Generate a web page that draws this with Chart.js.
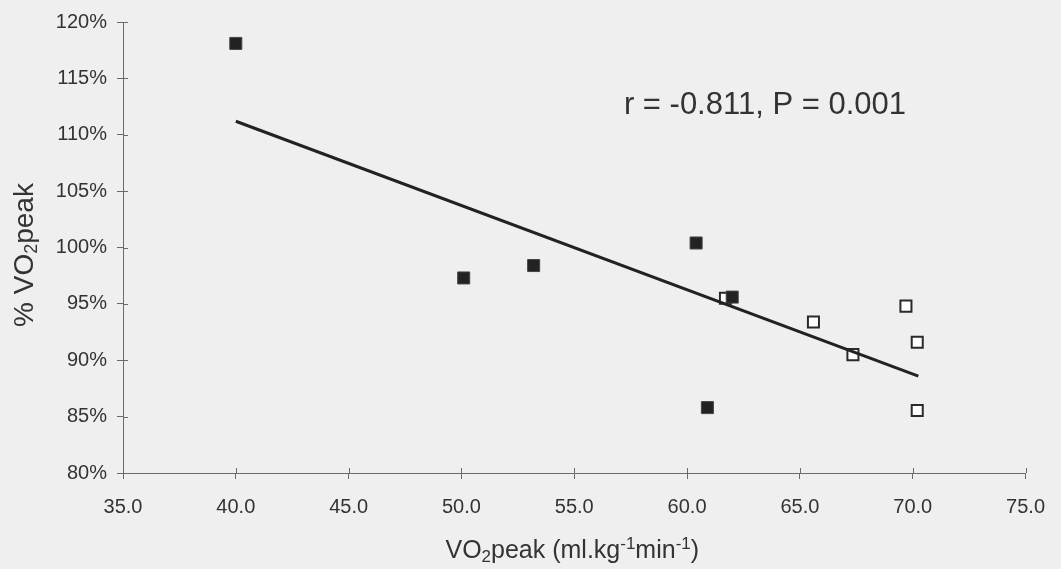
<!DOCTYPE html>
<html>
<head>
<meta charset="utf-8">
<script src="https://cdn.jsdelivr.net/npm/chart.js@4"></script>
<style>
  html, body { margin: 0; padding: 0; background: #efefef; }
  #wrap { width: 1061px; height: 569px; }
</style>
</head>
<body>
<div id="wrap"><canvas id="vo2Chart" width="1061" height="569"></canvas></div>
<script>
// data
const filledX = [40.0, 50.1, 53.2, 60.4, 60.9, 62.0];
const filledY = [118.1, 97.3, 98.4, 100.4, 85.8, 95.6];
const openX = [61.7, 65.6, 67.35, 69.7, 70.2, 70.2];
const openY = [95.5, 93.4, 90.5, 94.8, 91.6, 85.55];
const trendX = [40.0, 70.25];
const trendY = [111.2, 88.6];
const xTicks = [35, 40, 45, 50, 55, 60, 65, 70, 75];
const yTicks = [80, 85, 90, 95, 100, 105, 110, 115, 120];
const statText = 'r = -0.811, P = 0.001';

const ink = '#333333';
const axisColor = '#6a6a6a';
const fontFam = '"Liberation Sans", Arial, sans-serif';

function toPoints(xs, ys) {
    return xs.map((x, i) => ({ x: x, y: ys[i] }));
}

// draws text made of pieces, some of them sub/superscript, centred on 0
function richText(ctx, parts, size) {
    const small = Math.round(size * 0.66);
    let w = 0;
    parts.forEach(p => {
        ctx.font = (p.sub || p.sup ? small : size) + 'px ' + fontFam;
        p.w = ctx.measureText(p.t).width;
        w += p.w;
    });
    let x = -w / 2;
    parts.forEach(p => {
        ctx.font = (p.sub || p.sup ? small : size) + 'px ' + fontFam;
        let dy = 0;
        if (p.sub) dy = size * 0.16;
        if (p.sup) dy = -size * 0.36;
        ctx.fillText(p.t, x, dy);
        x += p.w;
    });
}

const extras = {
    id: 'extras',
    afterDraw(chart) {
        const ctx = chart.ctx;
        const xs = chart.scales.x, ys = chart.scales.y;
        const area = chart.chartArea;
        ctx.save();
        // inner half of the ticks (they cross the axis)
        ctx.strokeStyle = axisColor;
        ctx.lineWidth = 1;
        ctx.beginPath();
        yTicks.forEach(v => {
            const py = Math.round(ys.getPixelForValue(v)) + 0.5;
            ctx.moveTo(area.left, py);
            ctx.lineTo(area.left + 5, py);
        });
        xTicks.forEach(v => {
            const px = Math.round(xs.getPixelForValue(v)) + 0.5;
            ctx.moveTo(px, area.bottom);
            ctx.lineTo(px, area.bottom - 5);
        });
        ctx.stroke();

        ctx.fillStyle = ink;
        ctx.textBaseline = 'alphabetic';
        ctx.textAlign = 'left';

        // stats annotation
        ctx.font = '31px ' + fontFam;
        ctx.fillText(statText, xs.getPixelForValue(57.2), ys.getPixelForValue(111.8));

        // x axis title
        ctx.save();
        ctx.translate((area.left + area.right) / 2 - 2, 558);
        richText(ctx, [
            { t: 'VO' }, { t: '2', sub: true }, { t: 'peak (ml.kg' },
            { t: '-1', sup: true }, { t: 'min' }, { t: '-1', sup: true }, { t: ')' }
        ], 25);
        ctx.restore();

        // y axis title
        ctx.save();
        ctx.translate(33, 255);
        ctx.rotate(-Math.PI / 2);
        richText(ctx, [{ t: '% VO' }, { t: '2', sub: true }, { t: 'peak' }], 28);
        ctx.restore();

        ctx.restore();
    }
};

const chartCanvas = document.getElementById('vo2Chart');
new Chart(chartCanvas, {
    type: 'scatter',
    data: {
        datasets: [
            {
                label: 'trend',
                data: toPoints(trendX, trendY),
                showLine: true,
                borderColor: '#222222',
                borderWidth: 3,
                pointRadius: 0,
                fill: false
            },
            {
                label: 'filled',
                data: toPoints(filledX, filledY),
                pointStyle: 'rect',
                pointRadius: 8.5,
                backgroundColor: '#222222',
                borderColor: '#444444',
                borderWidth: 1
            },
            {
                label: 'open',
                data: toPoints(openX, openY),
                pointStyle: 'rect',
                pointRadius: 7.8,
                backgroundColor: '#ffffff',
                borderColor: '#2a2a2a',
                borderWidth: 2
            }
        ]
    },
    options: {
        responsive: false,
        animation: false,
        layout: { padding: { top: 20, right: 31, left: 0, bottom: 0 } },
        plugins: {
            legend: { display: false },
            tooltip: { enabled: false }
        },
        scales: {
            x: {
                type: 'linear',
                min: 35,
                max: 75,
                afterBuildTicks: s => { s.ticks = xTicks.map(v => ({ value: v })); },
                afterFit: s => { s.height = 96; },
                grid: { display: true, drawOnChartArea: false, tickLength: 6, color: axisColor },
                border: { display: true, color: axisColor, width: 1 },
                ticks: {
                    color: ink,
                    padding: 16,
                    maxRotation: 0,
                    font: { family: fontFam, size: 20 },
                    callback: v => Number(v).toFixed(1)
                }
            },
            y: {
                type: 'linear',
                min: 80,
                max: 120,
                afterBuildTicks: s => { s.ticks = yTicks.map(v => ({ value: v })); },
                afterFit: s => { s.width = 123; },
                grid: { display: true, drawOnChartArea: false, tickLength: 6, color: axisColor },
                border: { display: true, color: axisColor, width: 1 },
                ticks: {
                    color: ink,
                    padding: 10,
                    font: { family: fontFam, size: 20 },
                    callback: v => v + '%'
                }
            }
        }
    },
    plugins: [extras]
});
</script>
</body>
</html>
